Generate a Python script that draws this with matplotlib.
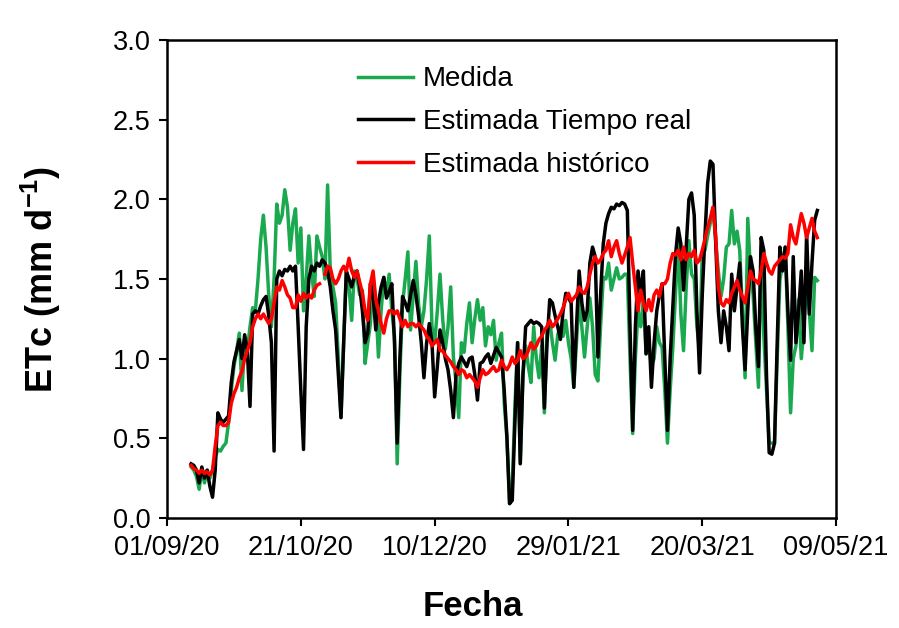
import numpy as np
import pandas as pd
import matplotlib
matplotlib.use("Agg")
import matplotlib.pyplot as plt
import matplotlib.dates as mdates

plt.rcParams['font.family'] = ['Liberation Sans', 'DejaVu Sans']
plt.rcParams['mathtext.fontset'] = 'custom'
plt.rcParams['mathtext.rm'] = 'Liberation Sans'
plt.rcParams['mathtext.bf'] = 'Liberation Sans:bold'

# daily values from 10/09/20
medida = [0.32, 0.30, 0.26, 0.18, 0.30, 0.22, 0.30, 0.25, 0.30, 0.38, 0.43, 0.42, 0.45, 0.47,
          0.6, 0.8, 0.95, 1.05, 1.16, 0.8, 1.1, 1.05, 1.2, 1.32, 1.3, 1.5, 1.75, 1.90, 1.7, 1.4, 1.2, 1.5, 1.97,
          1.85, 1.9, 2.06, 1.95, 1.68, 1.85, 1.94, 1.6, 1.82, 1.3, 1.5, 1.77, 1.55, 1.39, 1.77, 1.7, 1.64, 1.5,
          2.09, 1.55, 1.45, 1.35, 1.0, 0.63, 1.1, 1.55, 1.45, 1.24, 1.55, 1.5, 1.4, 1.43, 0.97, 1.1, 1.22,
          1.51, 1.35, 1.01, 1.3, 1.51, 1.4, 1.53, 1.3, 1.14, 0.34, 0.9, 1.34, 1.5, 1.67, 1.18, 1.4, 1.61, 1.34,
          1.2, 1.3, 1.5, 1.77, 1.2, 1.1, 1.3, 1.53, 1.25, 1.06, 1.2, 1.45, 1.01, 0.85, 0.63,
          1.1, 1.04, 1.22, 1.35, 1.1, 1.25, 1.37, 1.24, 1.32, 1.08, 1.2, 1.15, 1.24, 0.99, 1.1, 1.16, 0.72,
          0.5, 0.09, 0.2, 0.7, 1.1, 0.35, 0.9, 1.08, 0.95, 0.85, 1.2, 1.0, 0.88, 1.08, 0.66, 1.2,
          1.24, 1.1, 0.99, 1.15, 1.2, 1.14, 1.24, 1.1, 1.0, 0.82, 1.1, 1.38, 1.2, 1.01, 1.2, 1.38, 1.2, 0.9,
          0.86, 1.2, 1.51, 1.5, 1.6, 1.43, 1.5, 1.57, 1.5, 1.51, 1.53, 1.53, 1.0, 0.53, 1.0, 1.3,
          1.2, 1.37, 1.03, 1.1, 0.95, 1.0, 1.2, 1.1, 1.07, 0.8, 0.47, 0.8, 1.07, 1.4, 1.74, 1.28, 1.05, 1.45,
          1.74, 1.53, 1.5, 1.2, 1.05, 1.67, 1.68, 1.77, 1.85, 1.95, 1.74, 1.55, 1.39, 1.5, 1.7, 1.72,
          1.93, 1.72, 1.8, 1.68, 1.3, 0.88, 1.88, 1.55, 1.4, 1.1, 0.82, 1.7, 1.14, 0.8, 0.47, 0.47, 0.47,
          1.0, 1.49, 1.6, 1.7, 1.2, 0.66, 1.0, 1.08, 1.37, 1.0, 1.2, 1.49, 1.3, 1.05, 1.51, 1.49]

tiempo_real = [0.34, 0.33, 0.30, 0.22, 0.32, 0.25, 0.30, 0.20, 0.13, 0.30, 0.66, 0.62, 0.60,
               0.62, 0.64, 0.85, 0.98, 1.05, 1.12, 1.0, 1.15, 1.05, 0.70, 1.28, 1.30, 1.28, 1.33, 1.37, 1.39,
               1.27, 1.1, 0.42, 1.50,
               1.55, 1.52, 1.56, 1.55, 1.58, 1.55, 1.58, 1.2, 0.8, 0.43, 1.2, 1.5, 1.58, 1.55, 1.6, 1.58, 1.62,
               1.6, 1.55, 1.45, 1.3, 1.18, 0.9, 0.63, 1.1, 1.55, 1.5, 1.45, 1.52, 1.55, 1.45, 1.3, 1.1, 1.16, 1.47,
               1.4, 1.18, 1.35, 1.45, 1.51, 1.38, 1.42, 1.47, 1.1, 0.47, 1.0, 1.39, 1.35, 1.3, 1.4, 1.49, 1.4,
               1.27, 1.1, 0.88, 1.1, 1.22, 1.1, 0.76, 0.95, 1.18, 1.1, 1.0, 0.93, 0.8, 0.63, 0.9,
               0.97, 1.01, 0.98, 0.95, 1.0, 1.01, 0.9, 0.74, 0.97, 0.98, 1.01, 1.03, 0.97, 1.02, 1.07, 1.04,
               1.01, 0.8, 0.51, 0.09, 0.11, 0.6, 1.1, 0.34, 0.9, 1.2, 1.22, 1.24, 1.22, 1.23, 1.22, 1.2, 0.69,
               1.1, 1.37,
               1.35, 1.27, 1.2, 1.12, 1.3, 1.41, 1.38, 1.35, 0.82, 1.2, 1.55, 1.35, 1.24, 1.3, 1.6, 1.70, 1.64,
               1.01, 1.4, 1.72, 1.85, 1.91, 1.95, 1.94, 1.97, 1.96, 1.98, 1.97, 1.93, 1.2, 0.55, 1.2, 1.55,
               1.41, 1.55, 1.03, 1.2, 0.82, 1.1, 1.3, 1.4, 1.47, 1.0, 0.55, 1.0, 1.33, 1.65, 1.82, 1.72, 1.43,
               1.7, 2.0, 2.04, 1.9, 1.3, 0.91, 1.4, 1.77, 2.1, 2.24, 2.22, 1.74, 1.3, 1.1, 1.3, 1.2, 1.05,
               1.53, 1.3, 1.45, 1.6, 1.2, 0.93, 1.3, 1.64, 1.55, 1.2, 0.95, 1.76, 1.68, 0.9, 0.41, 0.4, 0.47,
               1.1, 1.70, 1.55, 1.7, 1.3, 0.99, 1.64, 1.1, 1.3, 1.55, 1.1, 1.79, 1.28, 1.6, 1.87, 1.93]

historico = [0.33, 0.31, 0.30, 0.28, 0.30, 0.28, 0.29, 0.27, 0.30, 0.45, 0.58, 0.60, 0.58, 0.58, 0.60,
             0.72, 0.78, 0.82, 0.88, 0.92, 1.0, 1.05, 1.1, 1.2, 1.25, 1.28, 1.25, 1.28, 1.25, 1.22, 1.25,
             1.35, 1.45,
             1.43, 1.49, 1.45, 1.4, 1.38, 1.32, 1.32, 1.4, 1.36, 1.41, 1.38, 1.4, 1.38, 1.43, 1.46, 1.47,
             np.nan, 1.53, 1.58, 1.57, 1.5, 1.47, 1.5, 1.55, 1.58, 1.55, 1.63, 1.55, 1.51, 1.55, 1.48,
             1.41, 1.3, 1.24, 1.47,
             1.55, 1.37, 1.3, 1.22, 1.16, 1.25, 1.3, 1.3, 1.28, 1.3, 1.25, 1.2, 1.24, 1.2, 1.22, 1.22, 1.2,
             1.22, 1.2, 1.18, 1.14, 1.12, 1.08, 1.1, 1.12, 1.05, 1.05, 1.02, 1.0, 0.98, 0.95, 0.93, 0.9,
             0.93, 0.92, 0.88, 0.9, 0.88, 0.86, 0.82, 0.88, 0.93, 0.9, 0.91, 0.93, 0.95, 0.92, 0.93, 0.99,
             0.95, 0.93, 0.96, 1.01, 0.97, 0.99, 1.05, 1.0, 1.01, 1.05, 1.1, 1.06, 1.08, 1.12, 1.14, 1.18, 1.2,
             1.24, 1.2, 1.22, 1.25, 1.28, 1.32, 1.37, 1.41, 1.36, 1.38, 1.4, 1.45, 1.42, 1.41, 1.45, 1.53,
             1.6, 1.64, 1.6, 1.62, 1.66, 1.68, 1.74, 1.64, 1.7, 1.74, 1.66, 1.6, 1.65, 1.70, 1.76, 1.6, 1.45, 1.3,
             1.43, 1.35, 1.3, 1.37, 1.3, 1.4, 1.43, 1.39, 1.47, 1.47, 1.5, 1.6, 1.66, 1.65, 1.68, 1.62, 1.7,
             1.62, 1.66, 1.64, 1.68, 1.6, 1.62, 1.68, 1.75, 1.82, 1.88, 1.95, 1.77, 1.45, 1.35, 1.33, 1.37, 1.35,
             1.41, 1.45, 1.49, 1.43, 1.39, 1.35, 1.45, 1.55, 1.5, 1.49, 1.47, 1.55, 1.66, 1.6, 1.55, 1.53,
             1.58, 1.6, 1.62, 1.64, 1.63, 1.66, 1.84, 1.76, 1.72, 1.82, 1.91, 1.85, 1.76, 1.82, 1.88, 1.8, 1.76]

series = [("Medida", medida, "#1aa94f"),
          ("Estimada Tiempo real", tiempo_real, "black"),
          ("Estimada histórico", historico, "#ff0000")]

fig = plt.figure(figsize=(8.99, 6.28), dpi=100)
ax = fig.add_axes([0.1858, 0.1752, 0.7442, 0.7612])

for name, vals, col in series:
    fechas = pd.date_range("2020-09-10", periods=len(vals), freq="D")
    ax.plot(fechas, vals, color=col, lw=2.5, label=name)

ticks = pd.date_range("2020-09-01", periods=6, freq="50D")
ax.set_xlim(ticks[0], ticks[-1])
ax.set_xticks(ticks)
ax.xaxis.set_major_formatter(mdates.DateFormatter("%d/%m/%y"))
ax.set_ylim(0, 3.0)
ax.set_yticks(np.arange(0, 3.01, 0.5))
ax.yaxis.set_major_formatter(plt.FormatStrFormatter("%.1f"))

ax.tick_params(direction="out", length=6, width=1.5, labelsize=19.5, pad=6)
for s in ax.spines.values():
    s.set_linewidth(1.8)

ax.set_xlabel("Fecha", fontsize=25, fontweight="bold")
ax.set_ylabel(r"ETc (mm d$^{\mathbf{-1}}$)", fontsize=26, fontweight="bold")
ax.xaxis.set_label_coords(0.457, -0.15)
ax.yaxis.set_label_coords(-0.155, 0.5)

ax.legend(loc="upper left", bbox_to_anchor=(0.285, 0.945), frameon=False, fontsize=20,
          handlelength=2.0, handletextpad=0.35, labelspacing=0.6, borderpad=0, borderaxespad=0)

fig.savefig("out.png", dpi=100)
